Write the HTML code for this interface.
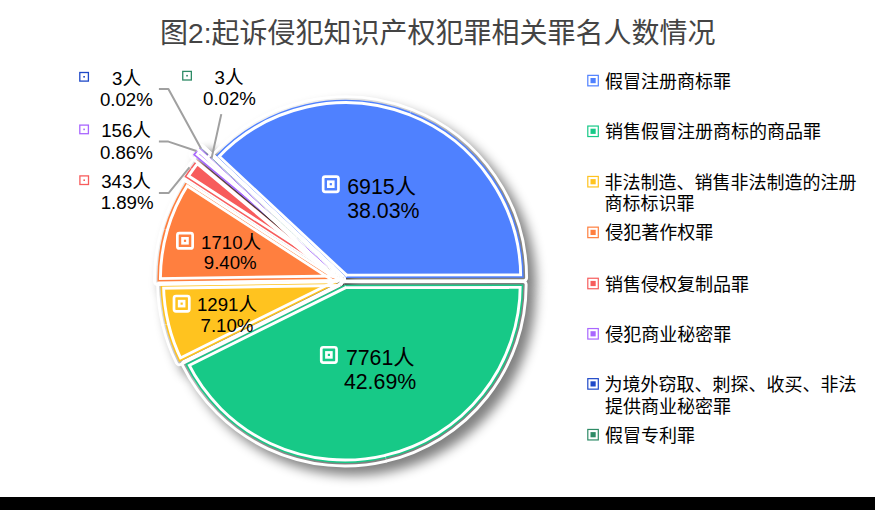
<!DOCTYPE html>
<html lang="zh"><head><meta charset="utf-8"><title>图2:起诉侵犯知识产权犯罪相关罪名人数情况</title>
<style>
html,body{margin:0;padding:0;background:#fff}
body{width:875px;height:510px;overflow:hidden;position:relative;font-family:"Liberation Sans","Noto Sans CJK SC",sans-serif}
svg{display:block;position:absolute;left:0;top:0}
svg text{font-family:"Liberation Sans","Noto Sans CJK SC",sans-serif}
</style></head><body>
<svg width="875" height="510" viewBox="0 0 875 510">
<defs>
<filter id="sh" filterUnits="userSpaceOnUse" x="0" y="0" width="875" height="510" color-interpolation-filters="sRGB"><feGaussianBlur in="SourceAlpha" stdDeviation="6.1"/><feOffset dx="7.8" dy="7.8"/><feComponentTransfer><feFuncA type="linear" slope="0.5"/></feComponentTransfer></filter>
<path id="s0" d="M345.38 278.04L214.98 156.44A178.30 178.30 0 0 1 523.68 277.78Z"/>
<path id="s0A" d="M345.38 278.04L214.98 156.44A178.30 178.30 0 0 1 410.89 112.22"/>
<mask id="m0A" maskUnits="userSpaceOnUse" x="0" y="0" width="875" height="510"><rect width="875" height="510" fill="#fff"/><use href="#s0A" fill="none" stroke="#000" stroke-width="3.0" stroke-linejoin="round"/></mask>
<path id="s0B" d="M410.32 111.99A178.30 178.30 0 0 1 523.68 277.78L345.38 278.04"/>
<mask id="m0B" maskUnits="userSpaceOnUse" x="0" y="0" width="875" height="510"><rect width="875" height="510" fill="#fff"/><use href="#s0B" fill="none" stroke="#000" stroke-width="3.0" stroke-linejoin="round"/></mask>
<path id="s1" d="M344.90 284.71L523.20 284.44A178.30 178.30 0 0 1 185.22 364.04Z"/>
<path id="s1A" d="M344.90 284.71L523.20 284.44A178.30 178.30 0 0 1 385.47 458.33"/>
<mask id="m1A" maskUnits="userSpaceOnUse" x="0" y="0" width="875" height="510"><rect width="875" height="510" fill="#fff"/><use href="#s1A" fill="none" stroke="#000" stroke-width="3.0" stroke-linejoin="round"/></mask>
<path id="s1B" d="M386.08 458.19A178.30 178.30 0 0 1 185.22 364.04L344.90 284.71"/>
<mask id="m1B" maskUnits="userSpaceOnUse" x="0" y="0" width="875" height="510"><rect width="875" height="510" fill="#fff"/><use href="#s1B" fill="none" stroke="#000" stroke-width="3.0" stroke-linejoin="round"/></mask>
<path id="s2" d="M338.85 282.57L179.17 361.90A178.30 178.30 0 0 1 160.57 285.24Z"/>
<path id="s2A" d="M338.85 282.57L179.17 361.90A178.30 178.30 0 0 1 165.51 324.31"/>
<mask id="m2A" maskUnits="userSpaceOnUse" x="0" y="0" width="875" height="510"><rect width="875" height="510" fill="#fff"/><use href="#s2A" fill="none" stroke="#000" stroke-width="3.0" stroke-linejoin="round"/></mask>
<path id="s2B" d="M165.65 324.91A178.30 178.30 0 0 1 160.57 285.24L338.85 282.57"/>
<mask id="m2B" maskUnits="userSpaceOnUse" x="0" y="0" width="875" height="510"><rect width="875" height="510" fill="#fff"/><use href="#s2B" fill="none" stroke="#000" stroke-width="3.0" stroke-linejoin="round"/></mask>
<path id="s3" d="M335.74 278.89L157.46 281.56A178.30 178.30 0 0 1 186.21 181.78Z"/>
<path id="s3A" d="M335.74 278.89L157.46 281.56A178.30 178.30 0 0 1 164.50 229.23"/>
<mask id="m3A" maskUnits="userSpaceOnUse" x="0" y="0" width="875" height="510"><rect width="875" height="510" fill="#fff"/><use href="#s3A" fill="none" stroke="#000" stroke-width="3.0" stroke-linejoin="round"/></mask>
<path id="s3B" d="M164.32 229.83A178.30 178.30 0 0 1 186.21 181.78L335.74 278.89"/>
<mask id="m3B" maskUnits="userSpaceOnUse" x="0" y="0" width="875" height="510"><rect width="875" height="510" fill="#fff"/><use href="#s3B" fill="none" stroke="#000" stroke-width="3.0" stroke-linejoin="round"/></mask>
<path id="s4" d="M333.96 273.82L184.42 176.71A178.30 178.30 0 0 1 196.96 159.71Z"/>
<path id="s4A" d="M333.96 273.82L184.42 176.71A178.30 178.30 0 0 1 190.62 167.77"/>
<mask id="m4A" maskUnits="userSpaceOnUse" x="0" y="0" width="875" height="510"><rect width="875" height="510" fill="#fff"/><use href="#s4A" fill="none" stroke="#000" stroke-width="3.0" stroke-linejoin="round"/></mask>
<path id="s4B" d="M190.25 168.28A178.30 178.30 0 0 1 196.96 159.71L333.96 273.82"/>
<mask id="m4B" maskUnits="userSpaceOnUse" x="0" y="0" width="875" height="510"><rect width="875" height="510" fill="#fff"/><use href="#s4B" fill="none" stroke="#000" stroke-width="3.0" stroke-linejoin="round"/></mask>
<path id="s5" d="M329.98 268.88L192.98 154.77A178.30 178.30 0 0 1 199.33 147.55Z"/>
<path id="s5A" d="M329.98 268.88L192.98 154.77A178.30 178.30 0 0 1 196.32 150.89"/>
<mask id="m5A" maskUnits="userSpaceOnUse" x="0" y="0" width="875" height="510"><rect width="875" height="510" fill="#fff"/><use href="#s5A" fill="none" stroke="#000" stroke-width="3.0" stroke-linejoin="round"/></mask>
<path id="s5B" d="M195.90 151.35A178.30 178.30 0 0 1 199.33 147.55L329.98 268.88"/>
<mask id="m5B" maskUnits="userSpaceOnUse" x="0" y="0" width="875" height="510"><rect width="875" height="510" fill="#fff"/><use href="#s5B" fill="none" stroke="#000" stroke-width="3.0" stroke-linejoin="round"/></mask>
<path id="s6" d="M331.50 269.59L200.85 148.26A178.30 178.30 0 0 1 200.98 148.12Z"/>
<path id="s6A" d="M331.50 269.59L200.85 148.26A178.30 178.30 0 0 1 200.94 148.16"/>
<mask id="m6A" maskUnits="userSpaceOnUse" x="0" y="0" width="875" height="510"><rect width="875" height="510" fill="#fff"/><use href="#s6A" fill="none" stroke="#000" stroke-width="3.0" stroke-linejoin="round"/></mask>
<path id="s6B" d="M200.88 148.23A178.30 178.30 0 0 1 200.98 148.12L331.50 269.59"/>
<mask id="m6B" maskUnits="userSpaceOnUse" x="0" y="0" width="875" height="510"><rect width="875" height="510" fill="#fff"/><use href="#s6B" fill="none" stroke="#000" stroke-width="3.0" stroke-linejoin="round"/></mask>
<path id="s7" d="M341.76 279.12L211.23 157.65A178.30 178.30 0 0 1 211.36 157.52Z"/>
<path id="s7A" d="M341.76 279.12L211.23 157.65A178.30 178.30 0 0 1 211.33 157.55"/>
<mask id="m7A" maskUnits="userSpaceOnUse" x="0" y="0" width="875" height="510"><rect width="875" height="510" fill="#fff"/><use href="#s7A" fill="none" stroke="#000" stroke-width="3.0" stroke-linejoin="round"/></mask>
<path id="s7B" d="M211.26 157.62A178.30 178.30 0 0 1 211.36 157.52L341.76 279.12"/>
<mask id="m7B" maskUnits="userSpaceOnUse" x="0" y="0" width="875" height="510"><rect width="875" height="510" fill="#fff"/><use href="#s7B" fill="none" stroke="#000" stroke-width="3.0" stroke-linejoin="round"/></mask>
</defs>
<rect width="875" height="510" fill="#fff"/>
<g id="pie"><g fill="#000" stroke="#000" stroke-width="8.8" stroke-linejoin="round"><use href="#s0" filter="url(#sh)"/><use href="#s1" filter="url(#sh)"/><use href="#s2" filter="url(#sh)"/><use href="#s3" filter="url(#sh)"/><use href="#s4" filter="url(#sh)"/><use href="#s5" filter="url(#sh)"/><use href="#s6" filter="url(#sh)"/><use href="#s7" filter="url(#sh)"/></g>
<use href="#s0" fill="#4F81FF"/>
<use href="#s0A" fill="none" stroke="#fff" stroke-width="8.8" stroke-linejoin="round" mask="url(#m0A)"/>
<use href="#s0B" fill="none" stroke="#fff" stroke-width="8.8" stroke-linejoin="round" mask="url(#m0B)"/>
<path d="M345.38 280.99A2.95 2.95 0 0 1 343.37 280.20" fill="none" stroke="#fff" stroke-width="2.90"/>
<use href="#s1" fill="#17C987"/>
<use href="#s1A" fill="none" stroke="#fff" stroke-width="8.8" stroke-linejoin="round" mask="url(#m1A)"/>
<use href="#s1B" fill="none" stroke="#fff" stroke-width="8.8" stroke-linejoin="round" mask="url(#m1B)"/>
<path d="M343.59 282.06A2.95 2.95 0 0 1 344.90 281.76" fill="none" stroke="#fff" stroke-width="2.90"/>
<use href="#s2" fill="#FFC31F"/>
<use href="#s2A" fill="none" stroke="#fff" stroke-width="8.8" stroke-linejoin="round" mask="url(#m2A)"/>
<use href="#s2B" fill="none" stroke="#fff" stroke-width="8.8" stroke-linejoin="round" mask="url(#m2B)"/>
<path d="M338.81 279.62A2.95 2.95 0 0 1 340.16 285.22" fill="none" stroke="#fff" stroke-width="2.90"/>
<use href="#s3" fill="#FF7F3F"/>
<use href="#s3A" fill="none" stroke="#fff" stroke-width="8.8" stroke-linejoin="round" mask="url(#m3A)"/>
<use href="#s3B" fill="none" stroke="#fff" stroke-width="8.8" stroke-linejoin="round" mask="url(#m3B)"/>
<path d="M337.35 276.42A2.95 2.95 0 0 1 335.78 281.84" fill="none" stroke="#fff" stroke-width="2.90"/>
<use href="#s4" fill="#F75C5C"/>
<use href="#s4A" fill="none" stroke="#fff" stroke-width="8.8" stroke-linejoin="round" mask="url(#m4A)"/>
<use href="#s4B" fill="none" stroke="#fff" stroke-width="8.8" stroke-linejoin="round" mask="url(#m4B)"/>
<path d="M335.85 271.56A2.95 2.95 0 0 1 332.35 276.30" fill="none" stroke="#fff" stroke-width="2.90"/>
<use href="#s5" fill="#A966FF"/>
<use href="#s5A" fill="none" stroke="#fff" stroke-width="8.8" stroke-linejoin="round" mask="url(#m5A)"/>
<use href="#s5B" fill="none" stroke="#fff" stroke-width="8.8" stroke-linejoin="round" mask="url(#m5B)"/>
<path d="M331.99 266.72A2.95 2.95 0 0 1 328.10 271.15" fill="none" stroke="#fff" stroke-width="2.90"/>
<use href="#s6" fill="#1F49C8"/>
<use href="#s6A" fill="none" stroke="#fff" stroke-width="8.8" stroke-linejoin="round" mask="url(#m6A)"/>
<use href="#s6B" fill="none" stroke="#fff" stroke-width="8.8" stroke-linejoin="round" mask="url(#m6B)"/>
<path d="M333.51 267.43A2.95 2.95 0 0 1 329.50 271.75" fill="none" stroke="#fff" stroke-width="2.90"/>
<use href="#s7" fill="#2E8B66"/>
<use href="#s7A" fill="none" stroke="#fff" stroke-width="8.8" stroke-linejoin="round" mask="url(#m7A)"/>
<use href="#s7B" fill="none" stroke="#fff" stroke-width="8.8" stroke-linejoin="round" mask="url(#m7B)"/>
<path d="M343.77 276.96A2.95 2.95 0 0 1 339.75 281.28" fill="none" stroke="#fff" stroke-width="2.90"/></g>
<g id="leaders"><polyline points="158.9,88.9 168.4,88.9 201.0,148.6" fill="none" stroke="#A0A0A0" stroke-width="2" stroke-linejoin="round"/><polyline points="221.3,114.1 211.6,158.1" fill="none" stroke="#A0A0A0" stroke-width="2" stroke-linejoin="round"/><polyline points="158.9,141.6 168.4,141.6 196.4,151.0" fill="none" stroke="#A0A0A0" stroke-width="2" stroke-linejoin="round"/><polyline points="158.9,192.9 168.8,192.9 189.5,167.3" fill="none" stroke="#A0A0A0" stroke-width="2" stroke-linejoin="round"/></g>
<g id="markers"><rect x="323.15" y="176.55" width="15.3" height="15.3" rx="2" fill="none" stroke="#fff" stroke-width="2.7"/><rect x="328.35" y="181.75" width="4.9" height="4.9" fill="none" stroke="#fff" stroke-width="2.7"/><rect x="321.25" y="347.25" width="15.3" height="15.3" rx="2" fill="none" stroke="#fff" stroke-width="2.7"/><rect x="326.45" y="352.45" width="4.9" height="4.9" fill="none" stroke="#fff" stroke-width="2.7"/><rect x="174.00" y="296.00" width="15.3" height="15.3" rx="2" fill="none" stroke="#fff" stroke-width="2.7"/><rect x="179.20" y="301.20" width="4.9" height="4.9" fill="none" stroke="#fff" stroke-width="2.7"/><rect x="177.35" y="233.15" width="15.3" height="15.3" rx="2" fill="none" stroke="#fff" stroke-width="2.7"/><rect x="182.55" y="238.35" width="4.9" height="4.9" fill="none" stroke="#fff" stroke-width="2.7"/><rect x="79.90" y="175.90" width="8.6" height="8.6" fill="none" stroke="#F75C5C" stroke-width="1.3"/><rect x="83.40" y="179.40" width="1.6" height="1.6" fill="#F75C5C"/><rect x="79.80" y="125.10" width="8.6" height="8.6" fill="none" stroke="#A966FF" stroke-width="1.3"/><rect x="83.30" y="128.60" width="1.6" height="1.6" fill="#A966FF"/><rect x="79.80" y="72.50" width="8.6" height="8.6" fill="none" stroke="#1F49C8" stroke-width="1.3"/><rect x="83.30" y="76.00" width="1.6" height="1.6" fill="#1F49C8"/><rect x="182.75" y="71.40" width="8.6" height="8.6" fill="none" stroke="#2E8B66" stroke-width="1.3"/><rect x="186.25" y="74.90" width="1.6" height="1.6" fill="#2E8B66"/></g>
<g id="legend-keys"><rect x="587.8" y="75.35" width="10.5" height="10.5" fill="none" stroke="#4F81FF" stroke-width="1.2"/><rect x="590.5" y="78.00" width="5.2" height="5.2" fill="#4F81FF"/><rect x="587.8" y="126.05" width="10.5" height="10.5" fill="none" stroke="#17C987" stroke-width="1.2"/><rect x="590.5" y="128.70" width="5.2" height="5.2" fill="#17C987"/><rect x="587.8" y="176.45" width="10.5" height="10.5" fill="none" stroke="#FFC31F" stroke-width="1.2"/><rect x="590.5" y="179.10" width="5.2" height="5.2" fill="#FFC31F"/><rect x="587.8" y="227.15" width="10.5" height="10.5" fill="none" stroke="#FF7F3F" stroke-width="1.2"/><rect x="590.5" y="229.80" width="5.2" height="5.2" fill="#FF7F3F"/><rect x="587.8" y="278.25" width="10.5" height="10.5" fill="none" stroke="#F75C5C" stroke-width="1.2"/><rect x="590.5" y="280.90" width="5.2" height="5.2" fill="#F75C5C"/><rect x="587.8" y="328.55" width="10.5" height="10.5" fill="none" stroke="#A966FF" stroke-width="1.2"/><rect x="590.5" y="331.20" width="5.2" height="5.2" fill="#A966FF"/><rect x="587.8" y="378.65" width="10.5" height="10.5" fill="none" stroke="#1F49C8" stroke-width="1.2"/><rect x="590.5" y="381.30" width="5.2" height="5.2" fill="#1F49C8"/><rect x="587.8" y="429.45" width="10.5" height="10.5" fill="none" stroke="#2E8B66" stroke-width="1.2"/><rect x="590.5" y="432.10" width="5.2" height="5.2" fill="#2E8B66"/></g>
<g id="text"><g fill="#444444"><text x="160.1" y="43.0" font-size="28.00" stroke="none">图2:起诉侵犯知识产权犯罪相关罪名人数情况</text></g>
<g fill="#000"><text x="347.2" y="193.8" font-size="21.33" stroke="none">6915人</text></g>
<g fill="#000"><text x="347.2" y="217.8" font-size="21.33" stroke="none">38.03%</text></g>
<g fill="#000"><text x="345.9" y="364.5" font-size="21.33" stroke="none">7761人</text></g>
<g fill="#000"><text x="343.9" y="388.5" font-size="21.33" stroke="none">42.69%</text></g>
<g fill="#000"><text x="196.9" y="311.1" font-size="18.67" stroke="none">1291人</text></g>
<g fill="#000"><text x="200.5" y="332.3" font-size="18.67" stroke="none">7.10%</text></g>
<g fill="#000"><text x="201.1" y="248.5" font-size="18.67" stroke="none">1710人</text></g>
<g fill="#000"><text x="203.8" y="269.4" font-size="18.67" stroke="none">9.40%</text></g>
<g fill="#000"><text x="101.2" y="187.6" font-size="18.67" stroke="none">343人</text></g>
<g fill="#000"><text x="100.7" y="209.4" font-size="18.67" stroke="none">1.89%</text></g>
<g fill="#000"><text x="101.2" y="136.5" font-size="18.67" stroke="none">156人</text></g>
<g fill="#000"><text x="99.9" y="158.5" font-size="18.67" stroke="none">0.86%</text></g>
<g fill="#000"><text x="112.1" y="84.9" font-size="18.67" stroke="none">3人</text></g>
<g fill="#000"><text x="99.9" y="105.6" font-size="18.67" stroke="none">0.02%</text></g>
<g fill="#000"><text x="214.5" y="83.5" font-size="18.67" stroke="none">3人</text></g>
<g fill="#000"><text x="203.0" y="104.5" font-size="18.67" stroke="none">0.02%</text></g>
<g fill="#000"><text x="605.0" y="87.6" font-size="18.00" stroke="none">假冒注册商标罪</text></g>
<g fill="#000"><text x="604.9" y="138.3" font-size="18.00" stroke="none">销售假冒注册商标的商品罪</text></g>
<g fill="#000"><text x="604.6" y="189.0" font-size="18.00" stroke="none">非法制造、销售非法制造的注册</text></g>
<g fill="#000"><text x="604.5" y="210.4" font-size="18.00" stroke="none">商标标识罪</text></g>
<g fill="#000"><text x="605.2" y="238.7" font-size="18.00" stroke="none">侵犯著作权罪</text></g>
<g fill="#000"><text x="604.9" y="290.6" font-size="18.00" stroke="none">销售侵权复制品罪</text></g>
<g fill="#000"><text x="605.2" y="340.9" font-size="18.00" stroke="none">侵犯商业秘密罪</text></g>
<g fill="#000"><text x="604.6" y="391.0" font-size="18.00" stroke="none">为境外窃取、刺探、收买、非法</text></g>
<g fill="#000"><text x="605.1" y="413.4" font-size="18.00" stroke="none">提供商业秘密罪</text></g>
<g fill="#000"><text x="605.0" y="441.8" font-size="18.00" stroke="none">假冒专利罪</text></g></g>
<rect x="0" y="497" width="875" height="13" fill="#000"/>
</svg>
</body></html>
